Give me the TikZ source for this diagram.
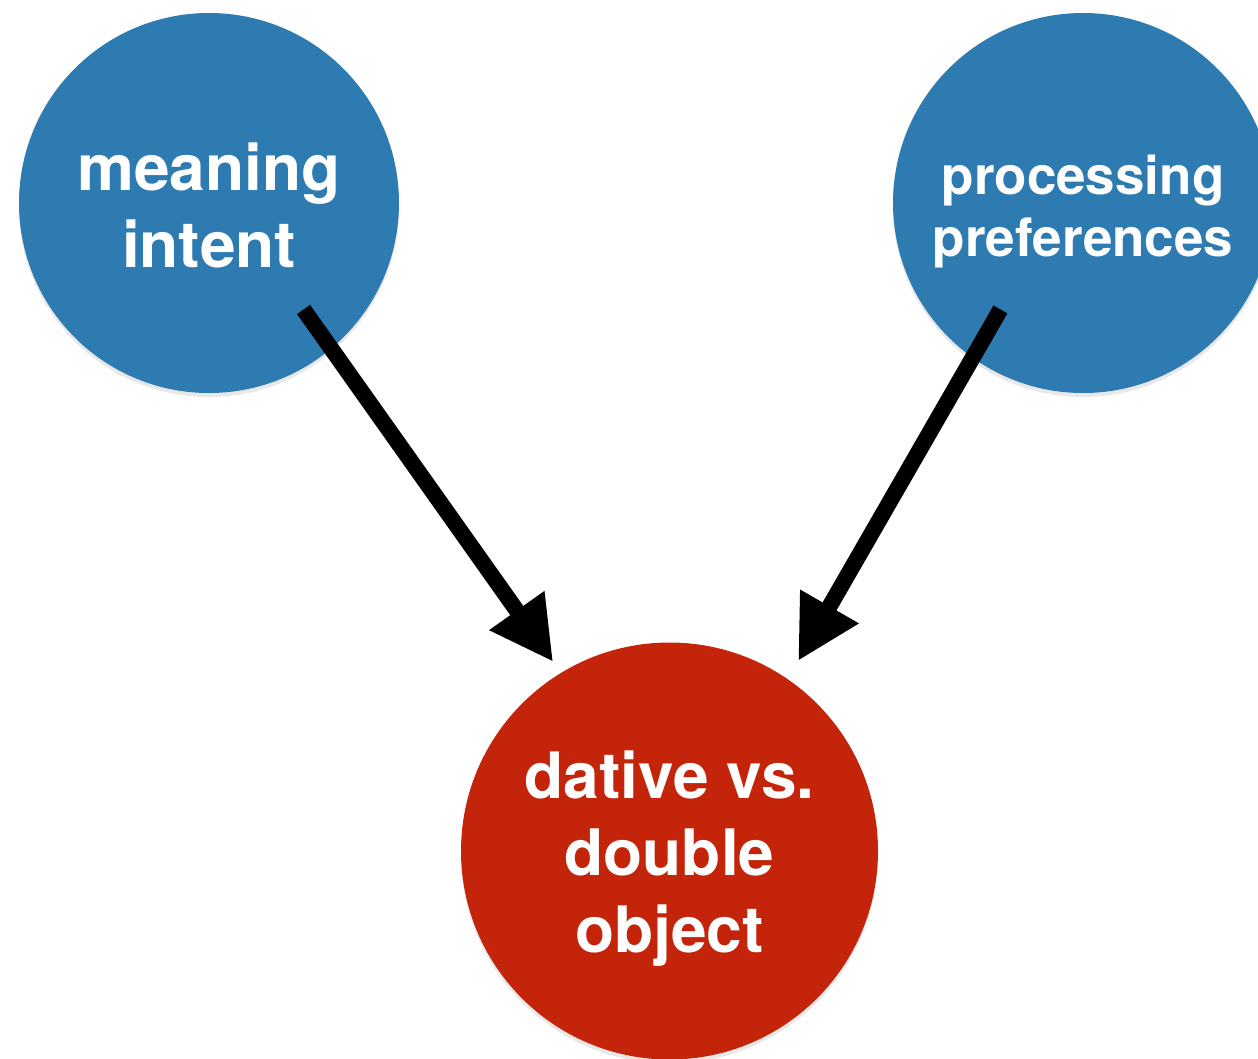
\documentclass[tikz,border=0pt]{standalone}
\usepackage{fontspec}
\setmainfont{TeX Gyre Heros}
\usetikzlibrary{arrows.meta,shadows}
\definecolor{causeblue}{HTML}{2E7BB1}
\definecolor{outcomered}{HTML}{C4250A}
\tikzset{
  factor/.style={circle, fill=causeblue, inner sep=0pt, minimum size=380pt,
    drop shadow={shadow xshift=0pt, shadow yshift=-4pt, opacity=0.18}},
  outcome/.style={factor, fill=outcomered, minimum size=417pt},
  caption/.style={text=white, align=center, inner sep=0pt},
  influence/.style={line width=16pt, -{Triangle[length=63pt, width=63pt]}}
}
\begin{document}
\begin{tikzpicture}[x=1pt, y=-1pt]
  \useasboundingbox (0, 0) rectangle (1258, 1058);
  \node[factor] (meaning) at (209, 203) {};
  \node[factor] (processing) at (1083, 203) {};
  \node[outcome] (dative) at (669.5, 851) {};
  % texts sit a little below the circle centres
  \node[caption, font=\fontsize{64}{77}\selectfont\bfseries] (meaning text) at ([yshift=-2pt]meaning.center) {meaning\\intent};
  \node[caption, font=\fontsize{53}{62}\selectfont\bfseries] (processing text) at ([yshift=-9pt]processing.center) {processing\\preferences};
  \node[caption, font=\fontsize{64}{77}\selectfont\bfseries] (dative text) at ([yshift=-8pt]dative.center) {dative vs.\\double\\object};
  \draw[influence] ([shift={(-48.4:142.4pt)}]meaning.center) -- ([shift={(121.6:222pt)}]dative.center);
  \draw[influence] ([shift={(232.2:134.7pt)}]processing.center) -- ([shift={(55.9:229.4pt)}]dative.center);
\end{tikzpicture}
\end{document}
